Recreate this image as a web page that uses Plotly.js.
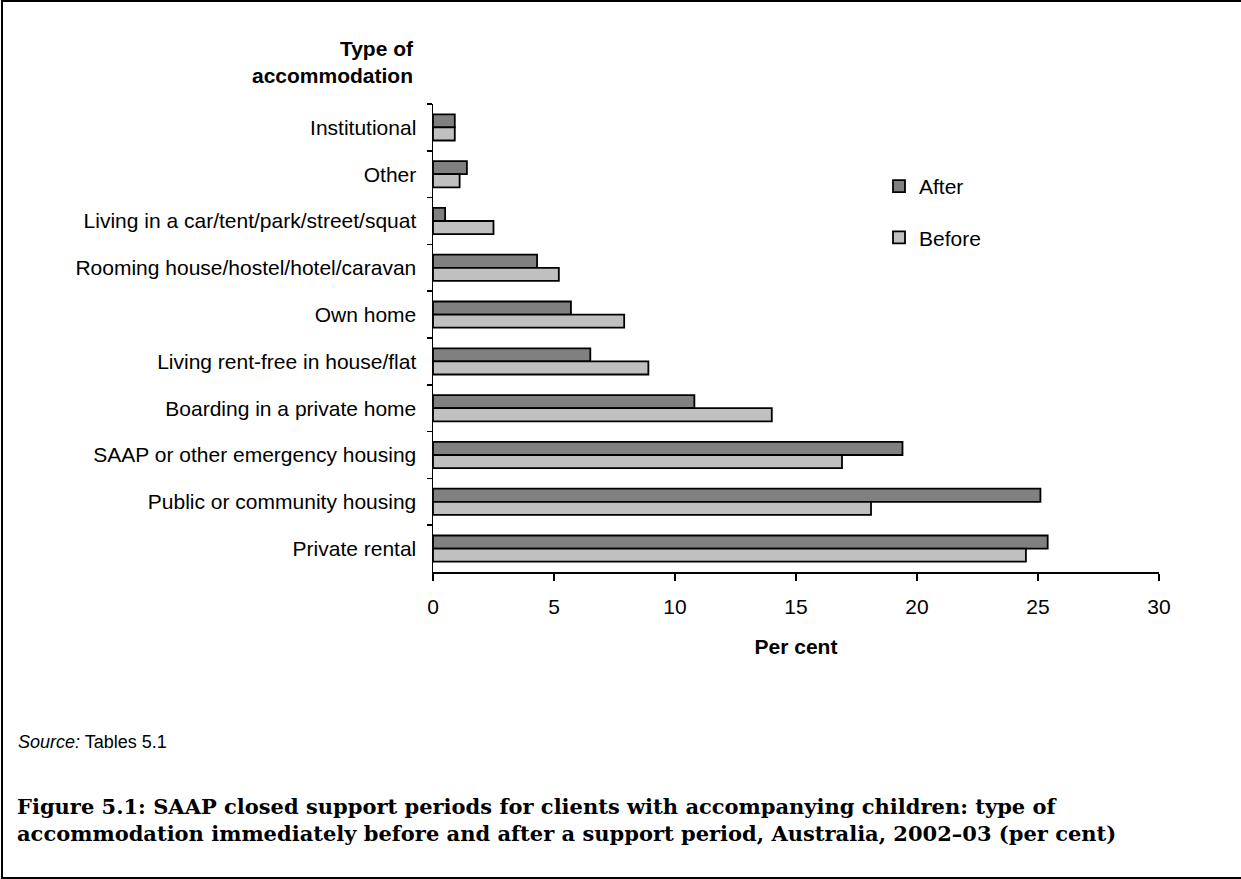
<!DOCTYPE html>
<html>
<head>
<meta charset="utf-8">
<script src="https://cdn.plot.ly/plotly-3.0.1.min.js"></script>
<style>
  html, body { margin: 0; padding: 0; background: #fff; }
  #wrap { position: relative; width: 1241px; height: 879px; }
  #chart { position: absolute; left: 0; top: 0; width: 1241px; height: 879px; }
  #frame { position: absolute; left: 1px; top: 0; width: 1250px; height: 875px;
           border-left: 2px solid #000; border-top: 2px solid #000; border-bottom: 2px solid #000;
           pointer-events: none; }
</style>
</head>
<body>
<div id="wrap">
  <div id="chart"></div>
  <div id="frame"></div>
</div>
<script>
// ---- data ----
const categories = [
  "Institutional",
  "Other",
  "Living in a car/tent/park/street/squat",
  "Rooming house/hostel/hotel/caravan",
  "Own home",
  "Living rent-free in house/flat",
  "Boarding in a private home",
  "SAAP or other emergency housing",
  "Public or community housing",
  "Private rental"
];
const afterValues  = [0.9, 1.4, 0.5, 4.3, 5.7, 6.5, 10.8, 19.4, 25.1, 25.4];
const beforeValues = [0.9, 1.1, 2.5, 5.2, 7.9, 8.9, 14.0, 16.9, 18.1, 24.5];
const seriesNames = ["After", "Before"];
const xTickValues = [0, 5, 10, 15, 20, 25, 30];
const yAxisTitleText = "Type of<br>accommodation";
const xAxisTitleText = "Per cent";
const sourceText = "<i>Source:</i> Tables 5.1";
const captionText = "Figure 5.1: SAAP closed support periods for clients with accompanying children: type of<br>accommodation immediately before and after a support period, Australia, 2002–03 (per cent)";

// ---- layout geometry (pixels) ----
const W = 1241, H = 879;
const M = { l: 433, r: 82, t: 104, b: 307 };
const pw = W - M.l - M.r, ph = H - M.t - M.b;
const px = x => (x - M.l) / pw;
const py = y => (H - M.b - y) / ph;

const sans = "Liberation Sans, Arial, sans-serif";

const traces = [
  {
    type: "bar", orientation: "h", name: seriesNames[0],
    y: categories, x: afterValues, legendgroup: "a",
    marker: { color: "#808080", line: { color: "#000", width: 1.8 } },
    hoverinfo: "skip"
  },
  {
    type: "bar", orientation: "h", name: seriesNames[1],
    y: categories, x: beforeValues, legendgroup: "b",
    marker: { color: "#C0C0C0", line: { color: "#000", width: 1.8 } },
    hoverinfo: "skip"
  }
];

const layout = {
  width: W, height: H,
  margin: M,
  paper_bgcolor: "#fff", plot_bgcolor: "#fff",
  barmode: "group", bargap: 0.44, bargroupgap: 0,
  font: { family: sans, size: 21, color: "#000" },
  showlegend: true,
  legend: {
    x: px(879), y: py(166), xanchor: "left", yanchor: "top",
    font: { family: sans, size: 21, color: "#000" },
    traceorder: "grouped", tracegroupgap: 21,
    bgcolor: "rgba(0,0,0,0)", borderwidth: 0
  },
  xaxis: {
    range: [0, 30], tickvals: xTickValues, ticktext: xTickValues.map(String),
    showgrid: false, zeroline: false,
    showline: true, linecolor: "#000", linewidth: 1.5,
    ticks: "outside", ticklen: 7, tickcolor: "#000", tickwidth: 1.5,
    ticklabelstandoff: 8,
    tickfont: { family: sans, size: 21, color: "#000" },
    title: { text: "<b>" + xAxisTitleText + "</b>", font: { family: sans, size: 21, color: "#000" }, standoff: 22 }
  },
  yaxis: {
    type: "category", autorange: "reversed",
    showgrid: false, zeroline: false,
    showline: true, linecolor: "#000", linewidth: 1.5,
    ticks: "outside", ticklen: 5, tickcolor: "#000", tickwidth: 1.5,
    tickson: "boundaries",
    ticklabelstandoff: 11,
    tickfont: { family: sans, size: 21, color: "#000" }
  },
  annotations: [
    {
      xref: "paper", yref: "paper", x: px(416), y: py(62), xanchor: "right", yanchor: "middle",
      align: "right", showarrow: false, text: "<b>" + yAxisTitleText + "</b>",
      font: { family: sans, size: 21, color: "#000" }
    },
    {
      xref: "paper", yref: "paper", x: px(16), y: py(742), xanchor: "left", yanchor: "middle",
      align: "left", showarrow: false, text: sourceText,
      font: { family: sans, size: 18, color: "#000" }
    },
    {
      xref: "paper", yref: "paper", x: px(15), y: py(820), xanchor: "left", yanchor: "middle",
      align: "left", showarrow: false, text: "<b>" + captionText + "</b>",
      font: { family: "DejaVu Serif, serif", size: 21, color: "#000" }
    }
  ]
};

Plotly.newPlot("chart", traces, layout, { staticPlot: true, displayModeBar: false });
</script>
</body>
</html>
